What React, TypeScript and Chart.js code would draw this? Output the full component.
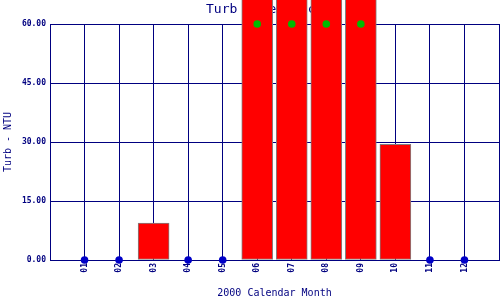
import React, { useEffect, useRef } from "react";
import { Chart, registerables } from "chart.js";

Chart.register(...registerables);

const months = ["01", "02", "03", "04", "05", "06", "07", "08", "09", "10", "11", "12"];
const turbNTU = [0, 0, 9.4, 0, 0, 120, 85, 150, 100, 29.4, 0, 0];
const yTicks = [0, 15, 30, 45, 60];
const yMax = 60;
const titleText = "Turb Exceedances";
const yTitle = "Turb - NTU";
const xTitle = "2000 Calendar Month";

const NAVY = "#000080";
const MONO = "'DejaVu Sans Mono', monospace";

export default function App() {
  const ref = useRef<HTMLCanvasElement | null>(null);
  useEffect(() => {
    if (!ref.current) return;
    const bars = months
      .map((m, i) => ({ x: i + 1, y: turbNTU[i] }))
      .filter((p) => p.y > 0);
    const zeroDots = months
      .map((m, i) => ({ x: i + 1, y: turbNTU[i] }))
      .filter((p) => p.y === 0);
    const overDots = months
      .map((m, i) => ({ x: i + 1, y: turbNTU[i] }))
      .filter((p) => p.y > yMax)
      .map((p) => ({ x: p.x, y: yMax }));

    const textPlugin = {
      id: "texts",
      beforeDatasetsDraw(chart: any) {
        const { ctx, chartArea } = chart;
        ctx.save();
        ctx.fillStyle = NAVY;
        ctx.font = `13px ${MONO}`;
        ctx.textAlign = "left";
        ctx.textBaseline = "alphabetic";
        ctx.fillText(titleText, 206, 13);
        ctx.font = `10px ${MONO}`;
        ctx.textAlign = "center";
        ctx.textBaseline = "middle";
        ctx.fillText(xTitle, (chartArea.left + chartArea.right) / 2, 293);
        ctx.translate(8, (chartArea.top + chartArea.bottom) / 2);
        ctx.rotate(-Math.PI / 2);
        ctx.fillText(yTitle, 0, 0);
        ctx.restore();
      },
    };

    const chart = new Chart(ref.current, {
      type: "bar",
      data: {
        datasets: [
          {
            type: "scatter",
            data: zeroDots,
            backgroundColor: "#0000C8",
            borderColor: "#0000C8",
            pointRadius: 3.8,
            borderWidth: 0,
            clip: false,
            order: 1,
          } as any,
          {
            type: "scatter",
            data: overDots,
            backgroundColor: "#00BB00",
            borderColor: "#00BB00",
            pointRadius: 3.8,
            borderWidth: 0,
            clip: false,
            order: 1,
          } as any,
          {
            type: "bar",
            data: bars,
            backgroundColor: "#FF0000",
            borderColor: "#808080",
            borderWidth: 1,
            borderSkipped: false,
            barThickness: 31,
            clip: false,
            order: 2,
          } as any,
        ],
      },
      options: {
        responsive: false,
        animation: false,
        layout: { autoPadding: false, padding: { top: 24, right: 1, left: 0, bottom: 0 } },
        plugins: {
          legend: { display: false },
          title: { display: false },
          tooltip: { enabled: false },
        },
        scales: {
          x: {
            type: "linear",
            offset: false,
            min: 0,
            max: months.length + 1,
            afterFit: (s: any) => {
              s.height = 40;
              s.paddingLeft = 0;
              s.paddingRight = 0;
            },
            grid: { color: NAVY, lineWidth: 1, drawTicks: false, offset: false },
            border: { color: NAVY, width: 1 },
            ticks: {
              stepSize: 1,
              autoSkip: false,
              minRotation: 90,
              maxRotation: 90,
              padding: 3,
              color: NAVY,
              font: { family: MONO, size: 8, weight: "bold" },
              callback: (v: any) => months[Number(v) - 1] ?? "",
            },
          },
          y: {
            type: "linear",
            min: 0,
            max: yMax,
            afterFit: (s: any) => {
              s.width = 50;
              s.paddingTop = 0;
              s.paddingBottom = 0;
            },
            afterBuildTicks: (s: any) => {
              s.ticks = yTicks.map((v) => ({ value: v }));
            },
            grid: { color: NAVY, lineWidth: 1, drawTicks: false },
            border: { color: NAVY, width: 1 },
            ticks: {
              padding: 4,
              color: NAVY,
              font: { family: MONO, size: 8, weight: "bold" },
              callback: (v: any) => Number(v).toFixed(2),
            },
          },
        },
      } as any,
      plugins: [textPlugin],
    });
    return () => chart.destroy();
  }, []);
  return (
    <div style={{ position: "fixed", left: 0, top: 0, width: 500, height: 300, background: "#fff" }}>
      <canvas ref={ref} width={500} height={300} />
    </div>
  );
}
